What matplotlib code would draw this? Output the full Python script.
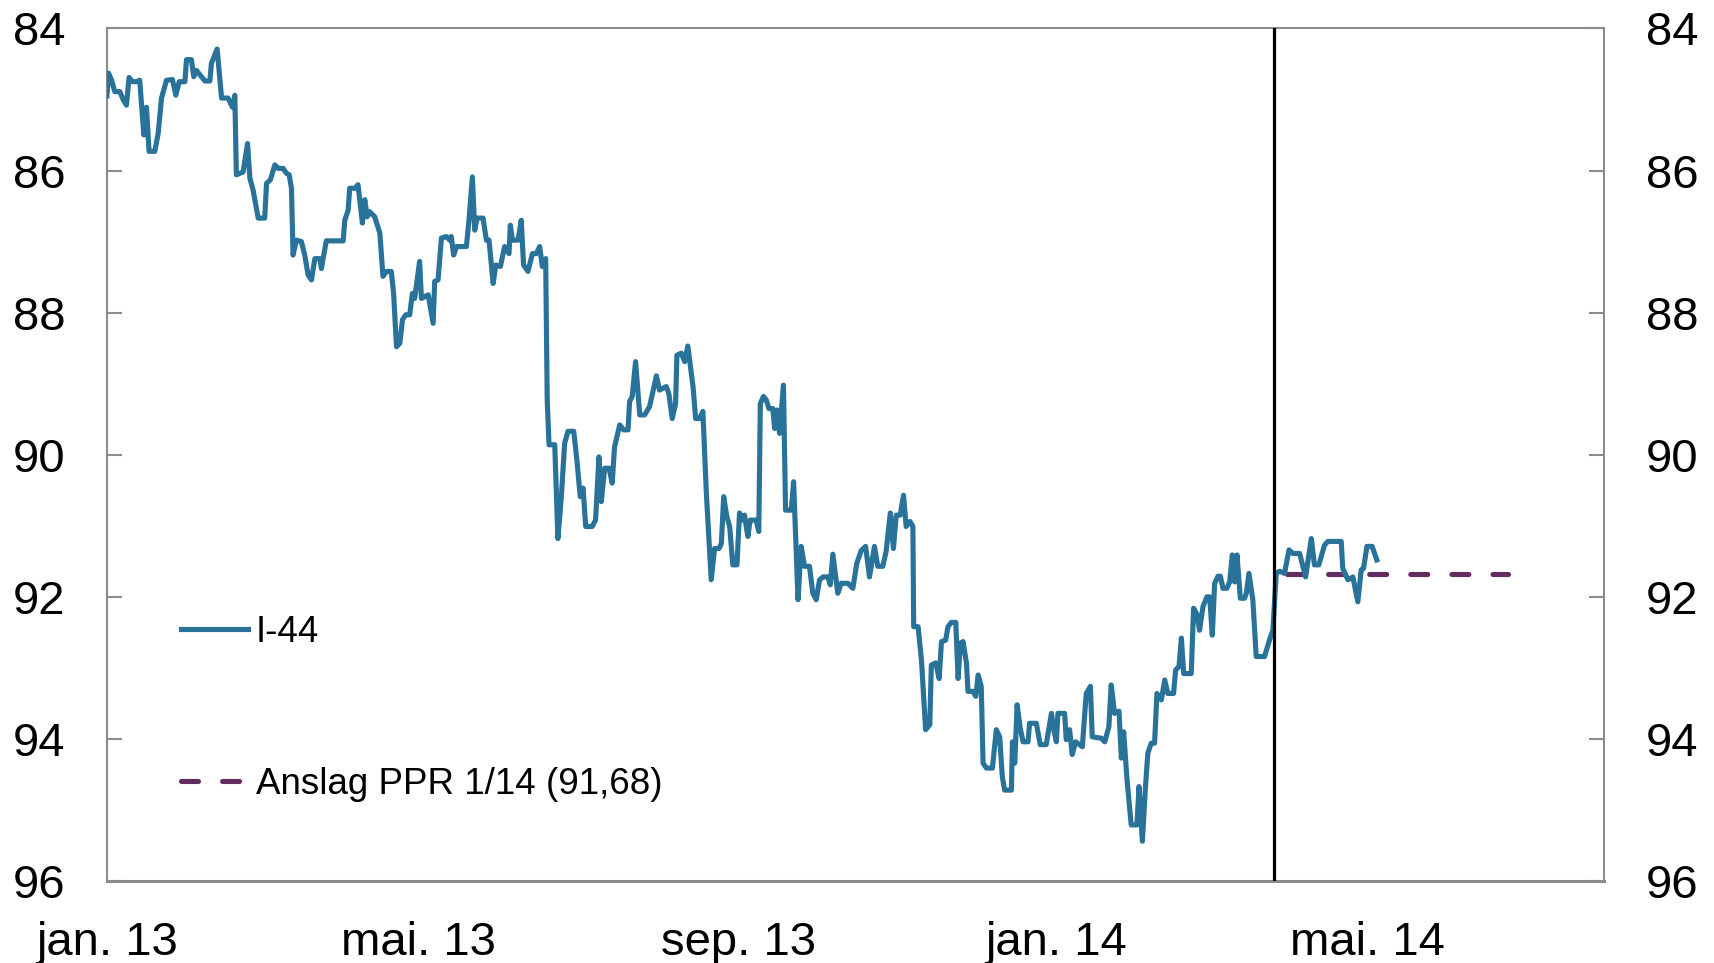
import numpy as np
import pandas as pd
import matplotlib
matplotlib.use('Agg')
import matplotlib.pyplot as plt
import matplotlib.dates as mdates
from matplotlib.lines import Line2D

plt.rcParams['font.family'] = ['Liberation Sans', 'DejaVu Sans']

# Constants
START = pd.Timestamp('2013-01-01')
BLUE = '#29729a'
PURPLE = '#622c60'
GREY = '#8c8c8c'
LW = 3.7
DASH = (3.3, 4.7)

# I-44: days since 1 jan 2013 and index value
days = [
    0.0, 0.6, 1.8, 3.0, 5.0, 6.2, 7.5, 8.5, 9.8, 11.4, 12.6, 14.2, 15.2, 16.2, 18.4, 19.7,
    21.0, 22.9, 25.2, 26.5, 27.8, 30.0, 30.6, 32.5, 33.4, 34.4, 37.7, 39.6, 40.2, 42.4,
    44.1, 46.6, 48.3, 49.2, 49.8, 52.4, 54.1, 55.0, 56.2, 58.2, 60.7, 61.4, 62.9, 64.6,
    65.9, 67.8, 69.1, 70.1, 71.0, 71.6, 72.9, 74.8, 76.1, 77.4, 78.7, 80.0, 81.9, 82.5,
    84.4, 90.9, 91.5, 92.8, 93.4, 95.4, 96.6, 98.3, 99.2, 100.1, 101.1, 103.0, 105.0,
    106.2, 107.5, 109.4, 110.3, 111.4, 112.7, 113.7, 115.0, 116.5, 117.5, 118.4, 120.3,
    121.0, 123.6, 125.5, 126.1, 127.4, 128.7, 130.6, 131.9, 132.5, 133.4, 134.5, 138.3,
    139.3, 140.6, 141.5, 142.4, 144.7, 146.0, 147.0, 148.6, 149.6, 151.4, 153.0, 154.7,
    155.2, 156.0, 158.2, 159.4, 160.3, 162.0, 163.7, 165.2, 166.5, 167.5, 168.8, 169.4,
    170.1, 172.3, 173.5, 174.8, 176.1, 177.4, 179.6, 180.8, 182.1, 183.2, 184.2, 186.7,
    188.0, 189.3, 190.2, 191.5, 193.2, 194.4, 195.3, 197.3, 198.8, 200.5, 201.1, 202.1,
    203.4, 205.0, 206.9, 208.8, 211.4, 212.6, 215.2, 216.2, 217.5, 218.8, 219.3, 221.0,
    222.3, 223.5, 225.5, 226.5, 228.0, 229.3, 230.6, 232.5, 233.8, 235.5, 236.4, 237.3,
    238.5, 239.6, 240.8, 242.4, 243.4, 244.4, 245.3, 246.6, 247.5, 249.8, 250.8, 251.4,
    252.6, 253.7, 254.7, 256.2, 256.9, 257.8, 258.8, 260.3, 261.1, 263.3, 264.2, 265.9,
    267.1, 268.4, 270.3, 271.6, 272.9, 274.2, 275.5, 277.4, 278.3, 279.3, 281.2, 282.5,
    285.1, 287.0, 288.5, 290.2, 291.9, 293.4, 295.3, 296.6, 298.5, 299.8, 301.4, 302.6,
    303.7, 305.2, 306.5, 307.5, 309.0, 310.1, 310.4, 312.1, 313.4, 315.0, 316.6, 317.2,
    318.9, 320.2, 321.1, 322.7, 323.6, 324.9, 326.6, 327.5, 328.4, 329.4, 330.7, 331.3,
    333.2, 334.3, 335.2, 336.4, 337.1, 338.4, 340.7, 342.2, 343.5, 344.5, 345.4, 348.0,
    348.4, 349.3, 350.2, 351.4, 352.5, 354.4, 355.0, 357.6, 359.1, 361.4, 363.4, 364.3,
    365.3, 365.9, 368.5, 369.1, 370.4, 371.4, 372.7, 375.3, 376.8, 378.4, 379.1, 382.6,
    383.9, 385.5, 386.4, 387.7, 389.4, 390.3, 391.2, 392.5, 394.1, 396.3, 397.1, 398.4,
    399.6, 400.5, 401.8, 403.1, 404.0, 405.7, 407.0, 408.2, 410.4, 411.2, 412.5, 413.4,
    414.3, 417.2, 418.1, 419.4, 420.4, 421.7, 423.2, 424.3, 425.3, 426.2, 427.5, 428.4,
    429.4, 430.9, 432.0, 433.0, 433.9, 434.8, 436.1, 437.7, 438.4, 439.4, 440.9, 442.2,
    445.4, 447.3, 448.6, 449.9, 451.2, 453.1, 454.8, 456.3, 458.9, 461.2, 463.4, 464.6,
    466.3, 468.5, 469.8, 474.9, 475.5, 477.5, 479.4, 481.3, 482.6, 483.5, 484.8, 486.8,
    488.6,
]
i44 = [
    84.95, 84.63, 84.73, 84.89, 84.89, 85.00, 85.08, 84.69, 84.75, 84.75, 84.73, 85.50, 85.11, 85.73, 85.73, 85.48,
    84.98, 84.73, 84.72, 84.94, 84.75, 84.75, 84.44, 84.44, 84.68, 84.59, 84.74, 84.74, 84.49, 84.29,
    84.98, 84.98, 85.11, 84.94, 86.06, 86.02, 85.62, 86.11, 86.27, 86.67, 86.67, 86.18, 86.13, 85.92,
    85.97, 85.97, 86.04, 86.06, 86.25, 87.19, 86.98, 87.00, 87.19, 87.47, 87.54, 87.24, 87.24, 87.38,
    86.99, 86.99, 86.70, 86.56, 86.25, 86.25, 86.20, 86.74, 86.41, 86.65, 86.58, 86.65, 86.88,
    87.49, 87.42, 87.42, 87.73, 88.48, 88.43, 88.10, 88.03, 88.03, 87.73, 87.80, 87.28,
    87.80, 87.75, 88.15, 87.56, 87.54, 86.95, 86.93, 86.98, 86.93, 87.19, 87.07, 87.07,
    86.70, 86.09, 86.84, 86.67, 86.67, 86.98, 86.98, 87.59, 87.33, 87.35, 87.07, 87.17,
    86.77, 86.98, 86.98, 86.70, 87.33, 87.42, 87.17, 87.17, 87.07, 87.35, 87.24, 89.23,
    89.86, 89.86, 91.18, 90.61, 89.84, 89.67, 89.67, 90.07, 90.59, 90.47, 91.01, 91.01,
    90.92, 90.03, 90.66, 90.19, 90.19, 90.40, 89.89, 89.58, 89.65, 89.65, 89.25, 89.18,
    88.69, 89.44, 89.44, 89.32, 88.89, 89.09, 89.04, 89.14, 89.49, 89.28, 88.60, 88.57,
    88.69, 88.47, 89.04, 89.49, 89.49, 89.39, 90.52, 91.76, 91.32, 91.32, 91.25, 90.59,
    90.87, 91.01, 91.55, 91.55, 90.82, 90.92, 90.85, 91.15, 90.92, 90.92, 91.08, 89.28,
    89.18, 89.23, 89.35, 89.35, 89.63, 89.37, 89.70, 89.02, 90.78, 90.78, 90.38, 92.04,
    91.29, 91.57, 91.57, 91.95, 92.04, 91.76, 91.72, 91.72, 91.83, 91.40, 91.95, 91.81,
    91.81, 91.88, 91.53, 91.35, 91.29, 91.72, 91.29, 91.57, 91.57, 91.36, 90.82, 91.32,
    90.85, 90.85, 90.57, 91.01, 90.94, 91.01, 92.42, 92.42, 92.89, 93.87, 93.80, 92.96,
    92.93, 93.15, 92.63, 92.61, 92.42, 92.36, 92.36, 93.15, 92.65, 92.63, 92.93, 93.33,
    93.33, 93.40, 93.10, 93.26, 94.34, 94.41, 94.41, 93.87, 93.97, 94.53, 94.72, 94.72,
    94.04, 94.34, 93.52, 93.85, 94.04, 94.04, 93.78, 93.78, 94.08, 94.08, 93.64, 93.87,
    94.04, 93.64, 93.64, 94.01, 93.87, 94.22, 94.04, 94.11, 93.36, 93.26, 93.97, 93.99,
    94.04, 93.83, 93.24, 93.64, 93.61, 94.27, 93.90, 94.58, 95.21, 95.21, 94.67, 95.44,
    94.67, 94.20, 94.06, 94.06, 93.36, 93.45, 93.17, 93.36, 93.36, 93.03, 92.98, 92.58,
    93.08, 93.08, 92.16, 92.25, 92.47, 92.14, 92.00, 92.00, 92.54, 91.81, 91.71, 91.71,
    91.88, 91.88, 91.79, 91.41, 91.79, 91.41, 92.02, 92.02, 91.95, 91.67, 92.04, 92.84,
    92.84, 92.61, 92.47, 91.67, 91.64, 91.67, 91.34, 91.39, 91.39, 91.72, 91.18, 91.55,
    91.55, 91.27, 91.22, 91.22, 91.60, 91.76, 91.72, 92.07, 91.62, 91.60, 91.29, 91.29,
    91.48,
]

# PPR 1/14 forecast
ppr_dates = ['2014-03-31', '2014-06-24']
ppr_value = 91.68
ppr_release = '2014-03-26'

tick_dates = ['2013-01-01', '2013-05-01', '2013-09-01', '2014-01-01', '2014-05-01']
tick_labels = ['jan. 13', 'mai. 13', 'sep. 13', 'jan. 14', 'mai. 14']
y_ticks = [84, 86, 88, 90, 92, 94, 96]

dates = START + pd.to_timedelta(days, unit='D')

fig = plt.figure(figsize=(17.14, 9.63), dpi=100)
ax = fig.add_axes([0.0624, 0.0851, 0.8734, 0.8854])

ax.plot(dates, i44, color=BLUE, lw=LW, solid_joinstyle='round', zorder=3)
ax.plot(pd.to_datetime(ppr_dates), [ppr_value, ppr_value], color=PURPLE, lw=LW,
        dashes=DASH, dash_capstyle='round', zorder=2)
ax.axvline(pd.Timestamp(ppr_release), color='black', lw=2.3, zorder=4)

ax.set_xlim(pd.Timestamp('2013-01-01'), pd.Timestamp('2014-07-31'))
ax.set_ylim(96, 84)
ax.set_yticks(y_ticks)
ax.set_xticks(pd.to_datetime(tick_dates))
ax.set_xticklabels(tick_labels)

for s in ax.spines.values():
    s.set_color(GREY)
    s.set_linewidth(1.5)
ax.spines['bottom'].set_linewidth(2.2)

ax.tick_params(axis='x', length=0, pad=28.5, labelsize=34)
ax.tick_params(axis='y', direction='in', length=11, width=1.5, color=GREY,
               labelsize=34, pad=30, left=True, right=True,
               labelleft=True, labelright=True)

handles = [
    Line2D([], [], color=BLUE, lw=LW),
    Line2D([], [], color=PURPLE, lw=LW, dashes=DASH, dash_capstyle='round'),
]
ax.legend(handles, ['I-44', 'Anslag PPR 1/14 (91,68)'], loc='lower left',
          bbox_to_anchor=(0.0394, 0.076), frameon=False, fontsize=26.5,
          handlelength=1.84, handletextpad=0.2, labelspacing=3.16,
          borderaxespad=0)

fig.savefig('out.png', dpi=100)
